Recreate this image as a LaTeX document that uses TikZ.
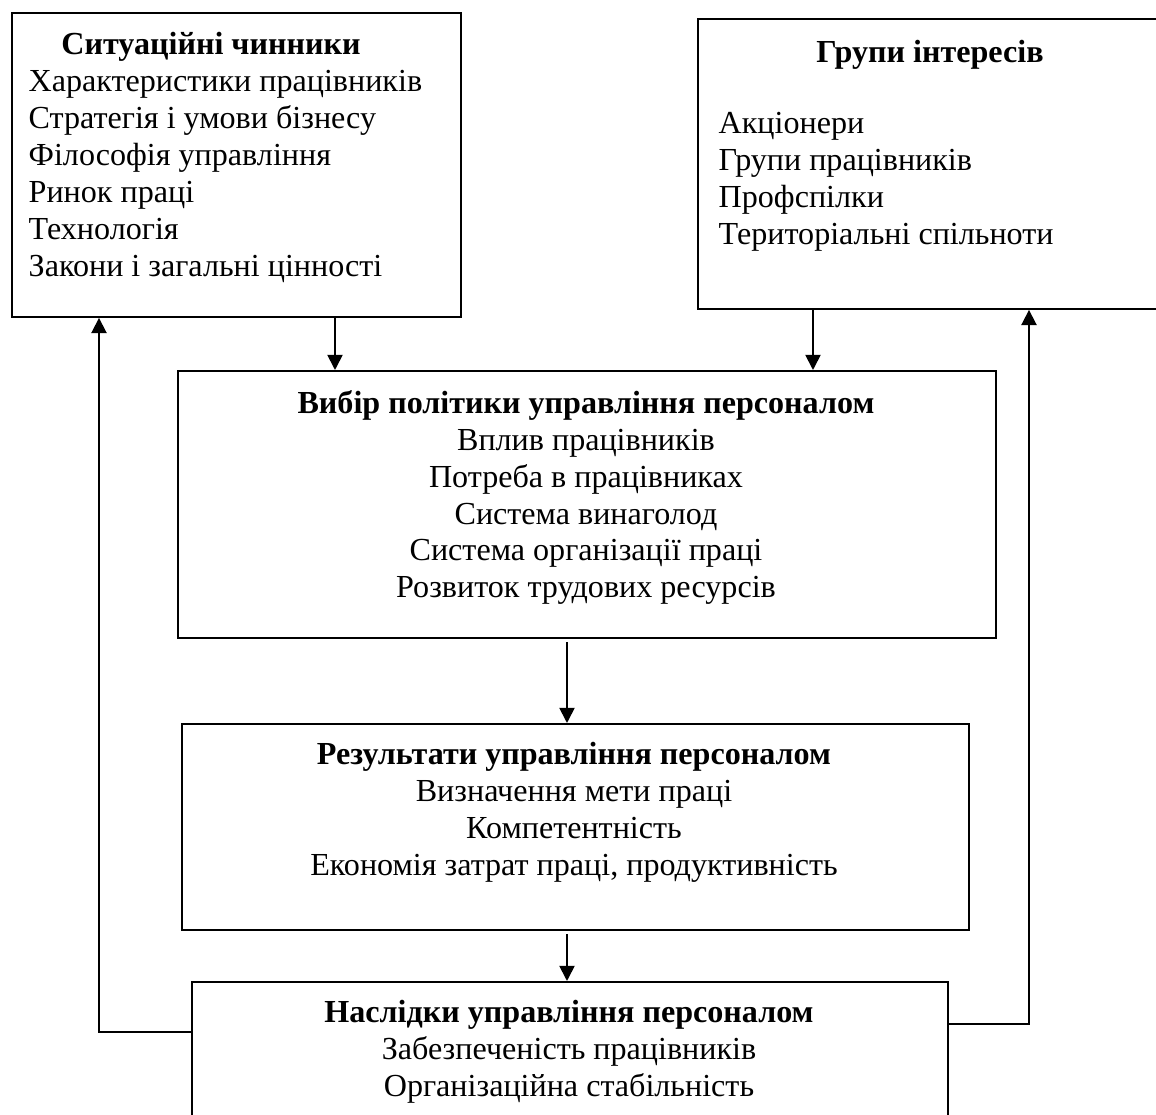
\documentclass[tikz,border=0pt]{standalone}
\usepackage{fontspec}
\setmainfont{Liberation Serif}
\usetikzlibrary{arrows.meta}
\tikzset{
  box/.style={draw, line width=0.5pt, anchor=north west, inner sep=0pt},
  txt/.style={anchor=north, inner sep=0pt, align=center,
    font=\fontsize{9.13}{10.47}\selectfont, execute at begin node=\strut},
  arr/.style={-{Triangle[length=4.3pt,width=4.3pt]}, line width=0.5pt}
}
\begin{document}
\begin{tikzpicture}[x=0.01cm, y=-0.01cm]
	\useasboundingbox (0,0) rectangle (1156,1115);
	\clip (0,0) rectangle (1156,1115);
	% boxes
	\node[box, minimum width=4.49cm, minimum height=3.04cm] (sit) at (11,12) {};
	\node[box, minimum width=5cm, minimum height=2.90cm] (grp) at (697,18) {};
	\node[box, minimum width=8.18cm, minimum height=2.67cm] (pol) at (177,370) {};
	\node[box, minimum width=7.87cm, minimum height=2.06cm] (res) at (181,723) {};
	\node[box, minimum width=7.56cm, minimum height=2.2cm] (nas) at (191,981) {};
	% texts
	\node[txt] (sittitle) at (211,28) {\textbf{Ситуаційні чинники}};
	\node[txt, anchor=north west, align=left] (sitlist) at (28,70) {Характеристики працівників\\Стратегія і умови бізнесу\\Філософія управління\\Ринок праці\\Технологія\\Закони і загальні цінності};
	\node[txt] (grptitle) at (930,36) {\textbf{Групи інтересів}};
	\node[txt, anchor=north west, align=left] (grplist) at (718,112) {Акціонери\\Групи працівників\\Профспілки\\Територіальні спільноти};
	\node[txt] (poltext) at (586,390) {\textbf{Вибір політики управління персоналом}\\Вплив працівників\\Потреба в працівниках\\Система винаголод\\Система організації праці\\Розвиток трудових ресурсів};
	\node[txt] (restext) at (574,742) {\textbf{Результати управління персоналом}\\Визначення мети праці\\Компетентність\\Економія затрат праці, продуктивність};
	\node[txt] (nastext) at (569,1000) {\textbf{Наслідки управління персоналом}\\Забезпеченість працівників\\Організаційна стабільність};
	% arrows
	\coordinate (c1) at (335,0);
	\coordinate (c2) at (813,0);
	\coordinate (c3) at (567,0);
	\coordinate (lft) at (99,1032);
	\coordinate (rgt) at (1029,1024);
	\draw[arr] (sit.south -| c1) -- (pol.north -| c1);
	\draw[arr] (grp.south -| c2) -- (pol.north -| c2);
	\draw[arr, shorten <=1pt] (pol.south -| c3) -- (res.north -| c3);
	\draw[arr, shorten <=1pt] (res.south -| c3) -- (nas.north -| c3);
	\draw[arr] (lft -| nas.west) -- (lft) -- (lft |- sit.south);
	\draw[arr] (rgt -| nas.east) -- (rgt) -- (rgt |- grp.south);
\end{tikzpicture}
\end{document}
